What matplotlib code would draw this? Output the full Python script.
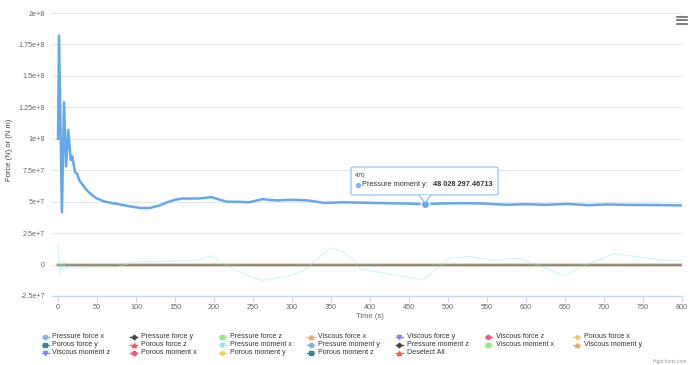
import matplotlib.pyplot as plt
from matplotlib.lines import Line2D
from matplotlib.patches import FancyBboxPatch, Polygon

plt.rcParams["font.family"] = ["Liberation Sans", "DejaVu Sans"]

# Pressure moment y (hovered series)
t_pmy = [0, 1.3, 5, 7.7, 10.3, 13.2, 16.3, 18.3, 21.8, 24.7, 27.3, 35, 42, 50,
         60, 75, 90, 105, 118, 130, 140, 150, 160, 180, 197, 205, 216, 233,
         245, 262, 280, 300, 320, 342, 365, 390, 420, 445, 470, 495, 520, 545,
         575, 600, 625, 652, 680, 705, 735, 770, 800]
v_pmy = [10.0, 18.2, 4.15, 12.9, 7.8, 10.7, 8.3, 8.6, 7.35, 7.2, 6.7, 6.05, 5.6,
         5.25, 5.0, 4.83, 4.65, 4.5, 4.5, 4.7, 4.95, 5.15, 5.25, 5.25, 5.36, 5.2,
         5.0, 4.98, 4.95, 5.2, 5.1, 5.15, 5.1, 4.9, 4.95, 4.92, 4.88, 4.85, 4.80,
         4.86, 4.88, 4.85, 4.75, 4.8, 4.75, 4.82, 4.72, 4.78, 4.74, 4.73, 4.70]

# Pressure moment x (faded)
t_pmx = [0, 2, 4, 6, 8, 10, 14, 20, 30, 54, 75, 96, 130, 173, 197, 220, 246,
         263, 298, 315, 349, 362, 379, 387, 430, 468, 503, 528, 554, 592, 618,
         648, 678, 712, 746, 772, 800]
v_pmx = [1.5, -0.9, 0.2, -0.5, 0.3, -0.4, -0.1, -0.3, -0.25, -0.2, -0.2, 0.2,
         0.25, 0.3, 0.7, -0.2, -0.95, -1.27, -0.88, -0.5, 1.33, 1.1, 0.45, -0.35,
         -0.8, -1.2, 0.5, 0.65, 0.35, 0.5, -0.1, -0.9, 0.0, 0.85, 0.6, 0.35, 0.3]

# remaining series stay near zero at this scale
t_flat = [0, 100, 200, 300, 400, 500, 600, 700, 800]
v_flat = [0, 0, 0, 0, 0, 0, 0, 0, 0]

series_names = ["Pressure force x", "Pressure force y", "Pressure force z",
                "Viscous force x", "Viscous force y", "Viscous force z",
                "Porous force x", "Porous force y", "Porous force z",
                "Pressure moment x", "Pressure moment y", "Pressure moment z",
                "Viscous moment x", "Viscous moment y", "Viscous moment z",
                "Porous moment x", "Porous moment y", "Porous moment z",
                "Deselect All"]
palette = ["#7cb5ec", "#434348", "#90ed7d", "#f7a35c", "#8085e9",
           "#f15c80", "#e4d354", "#2b908f", "#f45b5b", "#91e8e1"]
symbols = ["o", "D", "s", "^", "v"]
symbol_sizes = {"o": 3, "D": 2.3, "s": 2.6, "^": 3, "v": 3}

y_ticks = [-2.5e7, 0, 2.5e7, 5e7, 7.5e7, 1e8, 1.25e8, 1.5e8, 1.75e8, 2e8]
y_labels = ["-2.5e+7", "0", "2.5e+7", "5e+7", "7.5e+7", "1e+8", "1.25e+8",
            "1.5e+8", "1.75e+8", "2e+8"]
x_ticks = list(range(0, 801, 50))

W, H = 690, 365


def fx(x):
    return x / W


def fy(y):
    return 1 - y / H


fig = plt.figure(figsize=(6.9, 3.65), dpi=100)
ax = fig.add_axes([fx(52), fy(296), (682 - 52) / W, (296 - 13) / H])

# faded near-zero series
for i, name in enumerate(series_names[:-1]):
    if i in (9, 10):
        continue
    ax.plot(t_flat, v_flat, color=palette[i % 10], lw=1.6, alpha=0.2, zorder=3)
ax.plot(t_flat, v_flat, color="#8a7a5c", lw=0.8, alpha=0.6, zorder=3)
ax.plot(t_pmx, [v * 1e7 for v in v_pmx], color="#91e8e1", lw=1.0, alpha=0.35, zorder=3)
ax.plot(t_pmy, [v * 1e7 for v in v_pmy], color="#64a8ea", lw=1.8, zorder=5)
ax.plot([470], [48028297.46713], "o", ms=6, color="#64a8ea", mec="white", mew=1.0, zorder=6)

ax.set_xlim(-7.7, 800)
ax.set_ylim(-2.5e7, 2e8)
ax.set_yticks(y_ticks)
ax.set_yticklabels(y_labels)
ax.set_xticks(x_ticks)
ax.grid(axis="y", color="#e6e6e6", lw=0.8)
ax.set_axisbelow(True)
for s in ["top", "right", "left"]:
    ax.spines[s].set_visible(False)
ax.spines["bottom"].set_color("#ccd6eb")
ax.spines["bottom"].set_linewidth(1.0)
ax.tick_params(axis="y", length=0, labelsize=5.2, labelcolor="#666666", pad=5)
ax.tick_params(axis="x", length=4, width=0.8, color="#ccd6eb", labelsize=5.2,
               labelcolor="#666666", pad=2)
fig.text(fx(370), fy(316), "Time (s)", fontsize=5.5, color="#666666",
         ha="center", va="center")
fig.text(fx(10), fy(150), "Force (N) or (N m)", rotation=90, fontsize=5.5,
         color="#444444", ha="center", va="center")

# tooltip
box = FancyBboxPatch((fx(351), fy(195)), (498 - 351) / W, (195 - 167) / H,
                     boxstyle="round,pad=0,rounding_size=0.004",
                     transform=fig.transFigure, facecolor="white", alpha=0.9,
                     edgecolor="#7cb5ec", lw=0.8, zorder=10)
fig.add_artist(box)
pointer = Polygon([(fx(419), fy(195)), (fx(425), fy(203)), (fx(431), fy(195))],
                  closed=False, transform=fig.transFigure, facecolor="white",
                  edgecolor="#7cb5ec", lw=0.8, zorder=11)
fig.add_artist(pointer)
fig.text(fx(355), fy(175.5), "470", fontsize=4.5, color="#333333", va="center", zorder=12)
fig.add_artist(Line2D([fx(357.5)], [fy(185)], transform=fig.transFigure,
                      color="#7cb5ec", marker="o", ms=2.8, ls="none", zorder=12))
fig.text(fx(362), fy(185), "Pressure moment y:", fontsize=5.3, color="#333333",
         va="center", zorder=12)
fig.text(fx(433), fy(185), "48 028 297.46713", fontsize=5.3, color="#333333",
         weight="bold", va="center", zorder=12)

# legend
for i, name in enumerate(series_names):
    col, row = i % 7, i // 7
    x0 = 41.5 + col * 88.6
    y0 = 336.7 + row * 8.1
    sym = symbols[i % 5]
    fig.add_artist(Line2D([fx(x0), fx(x0 + 7)], [fy(y0), fy(y0)],
                          transform=fig.transFigure, color=palette[i % 10], lw=1.0))
    fig.add_artist(Line2D([fx(x0 + 3.5)], [fy(y0)], transform=fig.transFigure,
                          color=palette[i % 10], marker=sym, ms=symbol_sizes[sym],
                          ls="none"))
    fig.text(fx(x0 + 11), fy(y0), name, fontsize=5.1, color="#333333", va="center")

# menu icon and credit
for yy in (16.5, 20, 23.5):
    fig.add_artist(Line2D([fx(677), fx(687)], [fy(yy), fy(yy)],
                          transform=fig.transFigure, color="#666666", lw=1.2))
fig.text(fx(687), fy(362), "Highcharts.com", fontsize=3.5, color="#999999",
         ha="right", va="center")

fig.savefig("out.png", dpi=100)
